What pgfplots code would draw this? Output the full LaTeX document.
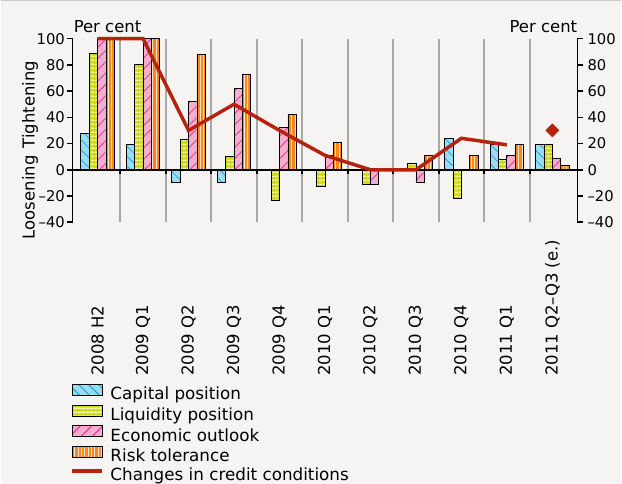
\documentclass[border=0pt]{standalone}
\usepackage{fontspec}
\setmainfont{DejaVu Sans}
\usepackage{pgfplots}
\pgfplotsset{compat=1.18}
\usetikzlibrary{patterns.meta}
\definecolor{bg}{HTML}{F5F4F2}
\definecolor{sepgray}{HTML}{A8A8A8}
\definecolor{capfill}{HTML}{9ADCF2}
\definecolor{capline}{HTML}{2AA4D6}
\definecolor{liqfill}{HTML}{CCD614}
\definecolor{liqline}{HTML}{F2F6B0}
\definecolor{ecofill}{HTML}{F6AED0}
\definecolor{ecoline}{HTML}{E63E95}
\definecolor{riskfill}{HTML}{F5871F}
\definecolor{riskline}{HTML}{FFE3C4}
\definecolor{credred}{HTML}{B5230F}
\newcommand{\ticksize}{\fontsize{14.8bp}{17bp}\selectfont}
\newcommand{\txtsize}{\fontsize{16.5bp}{19bp}\selectfont}
\newcommand{\legsize}{\fontsize{16.8bp}{19bp}\selectfont}
\tikzset{
  capstyle/.style={draw=black, line width=0.8bp, fill=capfill, postaction={pattern={Lines[angle=-45,distance=7bp,line width=0.8bp]}, pattern color=capline}},
  liqstyle/.style={draw=black, line width=0.8bp, fill=liqfill, postaction={pattern={Lines[angle=0,distance=3.6bp,line width=1.5bp]}, pattern color=liqline}},
  ecostyle/.style={draw=black, line width=0.8bp, fill=ecofill, postaction={pattern={Lines[angle=45,distance=8bp,line width=0.9bp]}, pattern color=ecoline}},
  riskstyle/.style={draw=black, line width=0.8bp, fill=riskfill, postaction={pattern={Lines[angle=90,distance=3.4bp,line width=1bp]}, pattern color=riskline}},
}
\begin{document}
\txtsize
\begin{tikzpicture}
\fill[bg] (0,0) rectangle (622bp,484bp);
\draw[black!20, line width=1.5bp] (0,484bp) -- (622bp,484bp);
\path[use as bounding box] (0,0) rectangle (622bp,484bp);
\begin{axis}[
  at={(72bp,262bp)}, anchor=south west,
  scale only axis, width=506bp, height=184bp,
  xmin=-0.55, xmax=10.55, ymin=-40, ymax=100,
  clip=false,
  separate axis lines,
  axis x line*=bottom, x axis line style={draw=none},
  axis y line*=left, y axis line style={line width=1.5bp, -},
  ytick={-40,-20,0,20,40,60,80,100},
  yticklabels={--40,--20,0,20,40,60,80,100},
  yticklabel style={inner xsep=1.5bp, font=\ticksize},
  tick align=outside, major tick length=6bp,
  y tick style={line width=1.5bp, black},
  xtick={0.5,1.5,2.5,3.5,4.5,5.5,6.5,7.5,8.5,9.5}, xticklabels={},
  x tick style={draw=none},
  xmajorgrids, major x grid style={color=sepgray, line width=2bp},
  legend style={at={(0,0)}, anchor=north west, xshift=-2bp, yshift=-162bp,
    draw=none, fill=none, inner sep=0pt, outer sep=0pt, row sep=-0.8bp,
    nodes={inner xsep=3bp, inner ysep=2bp, text height=11.5bp, text depth=4bp},
    font=\legsize},
  legend cell align=left,
]
\addplot[ybar, bar width=0.185, bar shift=-0.2775, capstyle,
  legend image code/.code={\draw[capstyle] (0bp,0.5bp) rectangle (30bp,11.5bp); \path (33.5bp,0bp);}]
  coordinates {(0,28) (1,19) (2,-10) (3,-10) (8,24) (9,19) (10,19)};
\addlegendentry{Capital position}
\addplot[ybar, bar width=0.185, bar shift=-0.0925, liqstyle,
  legend image code/.code={\draw[liqstyle] (0bp,0.5bp) rectangle (30bp,11.5bp); \path (33.5bp,0bp);}]
  coordinates {(0,89) (1,80) (2,23) (3,10) (4,-23) (5,-13) (6,-11) (7,5) (8,-22) (9,8) (10,19)};
\addlegendentry{Liquidity position}
\addplot[ybar, bar width=0.185, bar shift=0.0925, ecostyle,
  legend image code/.code={\draw[ecostyle] (0bp,0.5bp) rectangle (30bp,11.5bp); \path (33.5bp,0bp);}]
  coordinates {(0,100) (1,100) (2,52) (3,62) (4,32) (5,11) (6,-11) (7,-10) (9,11) (10,9)};
\addlegendentry{Economic outlook}
\addplot[ybar, bar width=0.185, bar shift=0.2775, riskstyle,
  legend image code/.code={\draw[riskstyle] (0bp,0.5bp) rectangle (30bp,11.5bp); \path (33.5bp,0bp);}]
  coordinates {(0,100) (1,100) (2,88) (3,73) (4,42) (5,21) (7,11) (8,11) (9,19) (10,3)};
\addlegendentry{Risk tolerance}
\draw[black, line width=1.8bp] (axis cs:-0.55,0) -- (axis cs:10.55,0);
\pgfplotsinvokeforeach{0.5,1.5,2.5,3.5,4.5,5.5,6.5,7.5,8.5,9.5}{
  \draw[black, line width=2bp] (axis cs:#1,0) -- ([yshift=-4.5bp]axis cs:#1,0);
}
\addplot[credred, line width=3.5bp, line join=miter, mark=none,
  legend image code/.code={\draw[credred, line width=3.5bp] (0bp,6bp) -- (30bp,6bp); \path (33.5bp,0bp);}]
  coordinates {(0,100) (1,100) (2,30) (3,50) (4,30) (5,11) (6,0) (7,0) (8,24) (9,19)};
\addlegendentry{Changes in credit conditions}
\addplot[only marks, mark=square*, mark size=4.7bp, mark options={rotate=45}, color=credred, forget plot]
  coordinates {(10,30)};
\node[anchor=base west, inner sep=0pt] at ([xshift=1bp, yshift=6bp]rel axis cs:0,1) {Per cent};
\node[anchor=base east, inner sep=0pt] at ([yshift=6bp]rel axis cs:1,1) {Per cent};
\node[rotate=90, anchor=base west, inner sep=0pt] at ([xshift=-38bp]axis cs:-0.55,16.3) {Tightening};
\node[rotate=90, anchor=base east, inner sep=0pt] at ([xshift=-38bp]axis cs:-0.55,11) {Loosening};
\end{axis}
\begin{axis}[
  at={(72bp,262bp)}, anchor=south west,
  scale only axis, width=506bp, height=184bp,
  xmin=-0.55, xmax=10.55, ymin=-40, ymax=100,
  separate axis lines,
  axis x line*=bottom, x axis line style={draw=none},
  axis y line*=right, y axis line style={line width=1.5bp, -},
  ytick={-40,-20,0,20,40,60,80,100},
  yticklabels={--40,--20,0,20,40,60,80,100},
  yticklabel style={inner xsep=4bp, font=\ticksize},
  tick align=outside, major tick length=6bp,
  y tick style={line width=1.5bp, black},
  xtick={0,1,2,3,4,5,6,7,8,9,10},
  xticklabels={2008 H2,2009 Q1,2009 Q2,2009 Q3,2009 Q4,2010 Q1,2010 Q2,2010 Q3,2010 Q4,2011 Q1,2011 Q2--Q3 (e.)},
  x tick style={draw=none},
  xticklabel style={rotate=90, anchor=west, inner sep=0pt, font=\txtsize},
  xticklabel shift=148bp,
]
\end{axis}
\end{tikzpicture}
\end{document}
